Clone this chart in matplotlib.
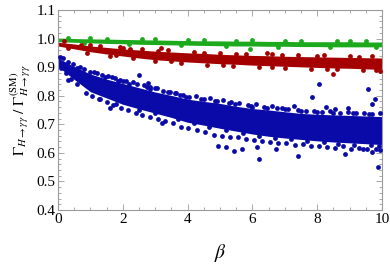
import matplotlib
matplotlib.use("Agg")
import matplotlib.pyplot as plt
from matplotlib.ticker import MultipleLocator

# band cores (dense part of each cloud), read at beta = 0, 0.5, ..., 10
beta_grid = [0, 0.5, 1, 1.5, 2, 2.5, 3, 3.5, 4, 4.5, 5, 5.5, 6, 6.5, 7, 7.5, 8, 8.5, 9, 9.5, 10]
blue_hi = [0.932, 0.902, 0.876, 0.858, 0.843, 0.828, 0.813, 0.801, 0.788, 0.780, 0.773,
           0.763, 0.755, 0.750, 0.744, 0.738, 0.735, 0.733, 0.731, 0.729, 0.727]
blue_lo = [0.902, 0.857, 0.814, 0.792, 0.770, 0.754, 0.739, 0.724, 0.707, 0.697, 0.686,
           0.676, 0.666, 0.658, 0.652, 0.647, 0.642, 0.638, 0.635, 0.632, 0.629]
red_hi = [0.987, 0.981, 0.974, 0.969, 0.964, 0.960, 0.956, 0.953, 0.950, 0.948, 0.945,
          0.943, 0.941, 0.940, 0.938, 0.937, 0.936, 0.935, 0.934, 0.933, 0.932]
red_lo = [0.974, 0.964, 0.954, 0.946, 0.939, 0.932, 0.926, 0.922, 0.918, 0.915, 0.912,
          0.910, 0.907, 0.905, 0.903, 0.901, 0.899, 0.897, 0.896, 0.894, 0.892]
green_hi = [1.002, 1.000, 0.999, 0.998, 0.997, 0.996, 0.995, 0.994, 0.993, 0.992, 0.992,
            0.991, 0.991, 0.990, 0.990, 0.989, 0.989, 0.989, 0.989, 0.988, 0.988]
green_lo = [0.989, 0.987, 0.985, 0.983, 0.982, 0.980, 0.979, 0.978, 0.977, 0.976, 0.975,
            0.974, 0.974, 0.973, 0.973, 0.972, 0.972, 0.971, 0.971, 0.971, 0.971]

# scattered points around the cores and outliers
blue_x = [0.05, 0.15, 0.3, 0.45, 0.6, 0.8, 1.0, 1.2, 1.35, 1.55, 1.75, 1.9, 2.1, 2.3, 2.45, 2.65,
          2.85, 3.05, 3.25, 3.45, 3.65, 3.85, 4.05, 4.25, 4.5, 4.7, 4.9, 5.1, 5.35, 5.6, 5.85,
          6.1, 6.35, 6.6, 6.9, 7.1, 7.4, 7.65, 7.9, 8.15, 8.4, 8.7, 8.95, 9.2, 9.45, 9.7, 9.95,
          0.1, 0.25, 0.4, 0.6, 0.85, 1.05, 1.25, 1.5, 1.7, 1.95, 2.15, 2.4, 2.6, 2.85, 3.1, 3.3,
          3.55, 3.8, 4.0, 4.3, 4.55, 4.8, 5.05, 5.3, 5.55, 5.8, 6.05, 6.3, 6.55, 6.8, 7.05, 7.3,
          7.55, 7.8, 8.05, 8.3, 8.55, 8.8, 9.05, 9.3, 9.55, 9.8, 9.95,
          1.1, 1.45, 1.85, 2.2, 2.75, 3.4, 3.95, 4.4, 4.85, 5.45, 5.95, 6.45, 7.0, 7.5, 8.0,
          8.5, 9.1, 9.6,
          1.3, 1.8, 2.5, 3.0, 3.7, 4.2, 4.65, 5.2, 5.7, 6.2, 6.7, 7.2, 7.7, 8.2, 8.65, 9.15,
          9.65, 9.9,
          0.68, 0.32, 1.66, 2.02, 2.51, 2.77, 2.84, 2.99, 1.59, 3.2, 3.6, 3.77,
          8.07, 7.85, 8.26, 7.29, 8.94, 9.56, 9.78, 9.7, 5.29, 6.0, 8.55, 6.75,
          4.95, 5.2, 5.44, 5.69, 6.21, 6.72, 7.42, 8.86, 9.87, 9.68, 9.42, 6.15]
blue_y = [0.937, 0.933, 0.918, 0.910, 0.898, 0.892, 0.884, 0.878, 0.874, 0.868, 0.861, 0.856,
          0.852, 0.847, 0.840, 0.837, 0.829, 0.826, 0.818, 0.813, 0.808, 0.804, 0.797, 0.799,
          0.790, 0.793, 0.783, 0.786, 0.778, 0.773, 0.768, 0.771, 0.760, 0.764, 0.756, 0.754,
          0.750, 0.748, 0.747, 0.743, 0.746, 0.740, 0.744, 0.738, 0.741, 0.736, 0.738,
          0.896, 0.881, 0.858, 0.842, 0.811, 0.800, 0.787, 0.778, 0.767, 0.757, 0.750, 0.741,
          0.734, 0.727, 0.718, 0.712, 0.704, 0.692, 0.686, 0.680, 0.674, 0.664, 0.660, 0.654,
          0.657, 0.647, 0.645, 0.640, 0.637, 0.633, 0.635, 0.628, 0.631, 0.623, 0.625, 0.621,
          0.618, 0.623, 0.615, 0.618, 0.612, 0.614, 0.610,
          0.884, 0.866, 0.850, 0.842, 0.830, 0.812, 0.797, 0.790, 0.782, 0.772, 0.764, 0.758,
          0.753, 0.746, 0.742, 0.741, 0.738, 0.735,
          0.790, 0.772, 0.750, 0.738, 0.720, 0.704, 0.692, 0.680, 0.671, 0.660, 0.652, 0.648,
          0.643, 0.637, 0.632, 0.628, 0.626, 0.624,
          0.899, 0.855, 0.864, 0.851, 0.872, 0.846, 0.823, 0.826, 0.756, 0.703, 0.808, 0.804,
          0.841, 0.797, 0.762, 0.765, 0.756, 0.822, 0.788, 0.770, 0.776, 0.762, 0.752, 0.756,
          0.624, 0.619, 0.607, 0.613, 0.578, 0.612, 0.590, 0.596, 0.552, 0.604, 0.613, 0.619]
red_x = [0.2, 0.7, 1.3, 1.9, 2.6, 3.4, 4.2, 5.0, 5.8, 6.6, 7.4, 8.2, 9.0, 9.7,
         0.3, 0.9, 1.6, 2.3, 3.0, 3.8, 4.6, 5.4, 6.2, 7.0, 7.8, 8.6, 9.4, 9.95,
         1.0, 2.0, 3.1, 4.5, 5.5, 6.9, 8.0, 9.3, 1.8, 3.5, 5.1, 6.6, 8.3, 9.8,
         2.22, 3.18, 6.44, 8.48]
red_y = [0.990, 0.979, 0.973, 0.969, 0.964, 0.959, 0.954, 0.950, 0.947, 0.945, 0.942, 0.941,
         0.939, 0.938,
         0.967, 0.951, 0.939, 0.931, 0.921, 0.915, 0.909, 0.905, 0.901, 0.898, 0.895, 0.892,
         0.890, 0.887,
         0.977, 0.967, 0.957, 0.951, 0.946, 0.942, 0.939, 0.937, 0.941, 0.920, 0.909, 0.902,
         0.894, 0.889,
         0.963, 0.966, 0.951, 0.875]
green_x = [0.3, 1.5, 3.0, 4.5, 6.0, 7.5, 9.0, 0.8, 2.2, 3.8, 5.2, 6.8, 8.4, 9.8,
           1.0, 2.6, 4.0, 5.5, 7.0, 8.6, 9.5, 5.93]
green_y = [1.003, 1.000, 0.997, 0.995, 0.994, 0.992, 0.991,
           0.985, 0.980, 0.976, 0.974, 0.972, 0.971, 0.970,
           1.001, 0.998, 0.996, 0.993, 0.992, 0.990, 0.990, 0.963]

colors = {"blue": "#0a0aa8", "red": "#a50000", "green": "#1caa1c"}

plt.rcParams["font.family"] = "Liberation Serif"
plt.rcParams["mathtext.fontset"] = "stix"

fig = plt.figure(figsize=(3.9, 2.64), dpi=100)
ax = fig.add_axes([58 / 390, 54 / 264, 324 / 390, 200 / 264])

for name, lo, hi, xs, ys in [("green", green_lo, green_hi, green_x, green_y),
                             ("red", red_lo, red_hi, red_x, red_y),
                             ("blue", blue_lo, blue_hi, blue_x, blue_y)]:
    c = colors[name]
    ax.fill_between(beta_grid, lo, hi, color=c, lw=0, zorder=2)
    ax.scatter(xs, ys, s=12, color=c, lw=0, zorder=3)

ax.set_xlim(0, 10)
ax.set_ylim(0.4, 1.1)
ax.xaxis.set_major_locator(MultipleLocator(2))
ax.xaxis.set_minor_locator(MultipleLocator(0.5))
ax.yaxis.set_major_locator(MultipleLocator(0.1))
ax.yaxis.set_minor_locator(MultipleLocator(0.02))
ax.yaxis.set_major_formatter(plt.FuncFormatter(lambda v, p: "%.1f" % v))

frame = "#9a9a9a"
for s in ax.spines.values():
    s.set_color(frame)
    s.set_linewidth(0.8)
ax.tick_params(which="both", direction="in", top=True, right=True, color=frame,
               labelsize=11, width=0.6)
ax.tick_params(which="major", length=4, pad=2)
ax.tick_params(which="minor", length=2)

ax.set_xlabel(r"$\beta$", fontsize=14, labelpad=12)
ax.set_ylabel(r"$\Gamma_{H\to\gamma\gamma}\ /\ \Gamma^{(\mathrm{SM})}_{H\to\gamma\gamma}$",
              fontsize=11, labelpad=2)

fig.savefig("out.png", dpi=100)
